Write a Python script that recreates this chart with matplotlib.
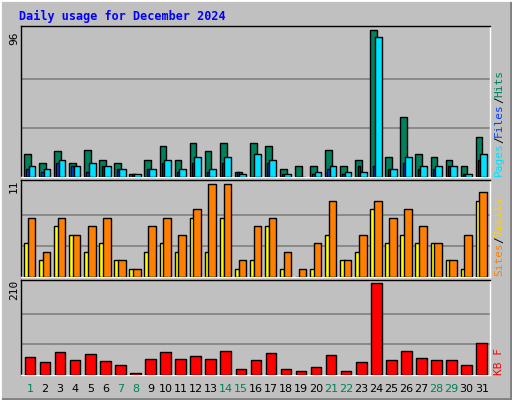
import matplotlib
matplotlib.use("Agg")
import matplotlib.pyplot as plt

days = list(range(1, 32))
hits = [15,9,17,9,18,11,9,2,11,20,11,22,17,22,3,22,20,5,7,7,18,7,11,96,13,39,15,13,11,7,26]
files = [7,5,11,7,9,7,5,2,5,11,5,13,5,13,2,15,11,2,0,3,7,3,3,92,5,13,7,7,7,2,15]
pages = [5,3,9,7,3,7,5,2,5,9,3,9,3,9,3,0,9,2,0,2,5,2,7,7,5,9,5,5,7,2,11]
visits = [7,3,7,5,6,7,2,1,6,7,5,8,11,11,2,6,7,3,1,4,9,2,5,9,7,8,6,4,2,5,10]
sites = [4,2,6,5,3,4,2,1,3,4,3,7,3,7,1,2,6,1,0,1,5,2,3,8,4,5,4,4,2,1,9]
kbytes = [41,29,53,34,48,32,22,4,36,53,36,43,36,55,13,34,50,13,8,18,46,8,29,210,34,55,39,34,34,22,73]
weekends = [1,7,8,14,15,21,22,28,29]

W, H = 512, 400
fig = plt.figure(figsize=(W/100, H/100), dpi=100)
fig.patch.set_facecolor('#C0C0C0')
bg = fig.add_axes([0, 0, 1, 1]); bg.set_xlim(0, W); bg.set_ylim(H, 0); bg.axis('off')
bg.plot([0, W-1, W-1], [H-1, H-1, 0], color='#808080', lw=2)
bg.plot([0, 0, W], [H, 0, 0], color='white', lw=2)
bg.text(19, 16, "Daily usage for December 2024", color='#0000FF', fontsize=8.5,
        fontweight='bold', family='DejaVu Sans Mono', va='center')

def panel(y0, y1):
    ax = fig.add_axes([21/W, 1-y1/H, 469/W, (y1-y0)/H])
    ax.set_facecolor('#C0C0C0')
    ax.set_xlim(0.85, 32.0)
    ax.set_xticks([]); ax.set_yticks([])
    for s in ax.spines.values():
        s.set_color('black'); s.set_linewidth(1)
    ax.spines['right'].set_color('white'); ax.spines['bottom'].set_color('white')
    return ax

def bars(ax, vals, off, w, color):
    ax.bar([d+off for d in days], vals, width=w, align='edge', color=color,
           edgecolor='black', linewidth=1, zorder=3)

ek = dict(rotation=90, fontsize=8, family='DejaVu Sans Mono', va='center', ha='center')

ax1 = panel(26, 177)
ax1.set_ylim(0, 96*1.03)
for g in (32, 64):
    ax1.axhline(g, color='#808080', lw=1.2, zorder=1)
bars(ax1, hits, 0.05, 0.45, '#00805C')
bars(ax1, pages, 0.2, 0.15, '#0040FF')
bars(ax1, files, 0.35, 0.45, '#00E0FF')
bg.text(14, 38, "96", **ek)

ax2 = panel(180, 277)
ax2.set_ylim(0, 11*1.04)
for g in (11/3, 22/3):
    ax2.axhline(g, color='#808080', lw=1.2, zorder=1)
bars(ax2, sites, 0.05, 0.3, '#FFFF00')
bars(ax2, visits, 0.3, 0.5, '#FF8000')
bg.text(14, 186, "11", **ek)

ax3 = panel(280, 375)
ax3.set_ylim(0, 210*1.03)
for g in (70, 140):
    ax3.axhline(g, color='#808080', lw=1.2, zorder=1)
bars(ax3, kbytes, 0.1, 0.7, '#FF0000')
bg.text(14, 290, "210", **ek)

def rlabel(parts, ybottom):
    y = ybottom
    for txt, col in parts:
        h = len(txt)*6.6
        bg.text(499, y - h/2, txt, color=col, **ek)
        y -= h

rlabel([("Pages", '#00E0FF'), ("/", '#000000'), ("Files", '#0040FF'), ("/", '#000000'), ("Hits", '#00805C')], 176)
rlabel([("Sites", '#FF8000'), ("/", '#000000'), ("Visits", '#FFD000')], 276)
rlabel([("KB F", '#FF0000')], 375)

for d in days:
    x = 21 + (d + 0.45 - 0.85) / (32.0 - 0.85) * 469
    bg.text(x, 389, str(d), color='#00805C' if d in weekends else 'black',
            fontsize=8, ha='center', va='center', family='DejaVu Sans')

fig.savefig('out.png', dpi=100, facecolor=fig.get_facecolor())
